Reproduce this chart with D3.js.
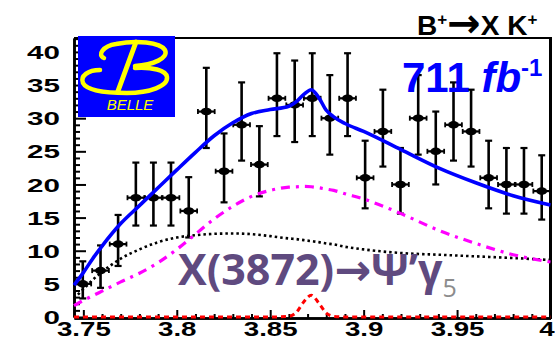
<!DOCTYPE html>
<html>
<head>
<meta charset="utf-8">
<script src="https://cdn.jsdelivr.net/npm/d3@7"></script>
<style>
  html, body { margin: 0; padding: 0; background: #fff; }
  svg { display: block; }
</style>
</head>
<body>
<div id="chart-container"></div>
<script>
/**************************************************
 * Data
 **************************************************/

// Bin centres of M(psi' gamma) [GeV], 27 bins between 3.745 and 4.0
const binCenters = [3.7497, 3.7592, 3.7686, 3.7781, 3.7875, 3.7969, 3.8064, 3.8158, 3.8253,
  3.8347, 3.8442, 3.8536, 3.8631, 3.8725, 3.8819, 3.8914, 3.9008, 3.9103,
  3.9197, 3.9292, 3.9386, 3.9481, 3.9575, 3.9669, 3.9764, 3.9858, 3.9953];
const counts = [5, 7, 11, 18, 18, 18, 16, 31, 22, 29, 23, 33, 32, 33, 30, 33, 21, 28,
  20, 30, 25, 29, 28, 21, 20, 20, 19];
const errLow = [2.2, 2.6, 3.3, 4.2, 4.2, 4.2, 4.0, 5.5, 4.7, 5.4, 4.8, 5.7, 5.6, 5.7, 5.5, 5.7, 4.6, 5.3,
  4.4, 5.5, 5.0, 5.4, 5.3, 4.6, 4.4, 4.4, 4.3];
const errHigh = [3.4, 3.8, 4.4, 5.3, 5.3, 5.3, 5.1, 6.6, 5.7, 6.4, 5.8, 6.8, 6.7, 6.8, 6.5, 6.8, 5.6, 6.3,
  5.5, 6.5, 6.0, 6.4, 6.3, 5.6, 5.5, 5.5, 5.4];

// Fit components sampled along the mass axis
const curveX = [3.745, 3.75, 3.755, 3.76, 3.77, 3.78, 3.79, 3.80, 3.81, 3.82, 3.83, 3.84, 3.85,
  3.86, 3.864, 3.868, 3.872, 3.876, 3.88, 3.884, 3.89, 3.90, 3.92, 3.94, 3.96, 3.98, 4.00];
const bkgCurve = [2.8, 4.2, 5.6, 6.8, 8.8, 10.2, 11.3, 12.0, 12.35, 12.55, 12.6, 12.5, 12.2,
  11.85, 11.75, 11.6, 11.45, 11.3, 11.1, 10.95, 10.6, 10.2, 9.65, 9.4, 9.15, 8.9, 8.6];
const psiCurve = [1.7, 2.5, 3.2, 3.9, 5.3, 6.6, 8.2, 10.2, 12.5, 14.8, 16.7, 18.2, 19.1,
  19.6, 19.65, 19.7, 19.65, 19.5, 19.3, 19.1, 18.6, 17.8, 15.6, 13.1, 11.1, 9.4, 8.3];
const sigCurve = [0, 0, 0, 0, 0, 0, 0, 0, 0, 0, 0, 0, 0,
  0.1, 0.7, 2.3, 3.3, 2.1, 0.6, 0.1, 0, 0, 0, 0, 0, 0, 0];
const totalCurve = [4.8, 6.7, 8.8, 10.7, 14.1, 16.8, 19.5, 22.2, 24.85, 27.35, 29.3, 30.7, 31.3,
  31.8, 32.5, 33.6, 34.3, 33.1, 31.2, 30.2, 29.2, 28.0, 25.25, 22.5, 20.25, 18.3, 16.9];

// Axis ticks
const xMajorTicks = [3.75, 3.8, 3.85, 3.9, 3.95, 4.0];
const xMinorTicks = [3.76, 3.77, 3.78, 3.79, 3.81, 3.82, 3.83, 3.84, 3.86, 3.87, 3.88, 3.89,
  3.91, 3.92, 3.93, 3.94, 3.96, 3.97, 3.98, 3.99];
const yMajorTicks = [0, 5, 10, 15, 20, 25, 30, 35, 40];
const yMinorTicks = [1, 2, 3, 4, 6, 7, 8, 9, 11, 12, 13, 14, 16, 17, 18, 19, 21, 22, 23, 24,
  26, 27, 28, 29, 31, 32, 33, 34, 36, 37, 38, 39, 41, 42];

/**************************************************
 * Rendering
 **************************************************/

const W = 555, H = 339;
const svg = d3.select("#chart-container")
  .append("svg")
  .attr("width", W)
  .attr("height", H);

const x = d3.scaleLinear().domain([3.745, 4.0]).range([74, 550.5]);
const y = d3.scaleLinear().domain([0, 42.1]).range([317, 38]);

const axisFont = "'Liberation Sans', Arial, sans-serif";
const arrowFont = "'DejaVu Sans', sans-serif";

// data points with error bars
const halfBin = (x(binCenters[1]) - x(binCenters[0])) / 2;
const pts = svg.append("g").attr("class", "points");
const pg = pts.selectAll("g")
  .data(binCenters.map((c, i) => ({ c, n: counts[i], lo: errLow[i], hi: errHigh[i] })))
  .enter()
  .append("g");

pg.append("line")
  .attr("x1", d => x(d.c)).attr("x2", d => x(d.c))
  .attr("y1", d => y(d.n - d.lo)).attr("y2", d => y(d.n + d.hi))
  .attr("stroke", "#000").attr("stroke-width", 2.6);
[d => d.n - d.lo, d => d.n + d.hi].forEach(f => {
  pg.append("line")
    .attr("x1", d => x(d.c) - 3.5).attr("x2", d => x(d.c) + 3.5)
    .attr("y1", d => y(f(d))).attr("y2", d => y(f(d)))
    .attr("stroke", "#000").attr("stroke-width", 2.2);
});
pg.append("line")
  .attr("x1", d => x(d.c) - halfBin + 0.5).attr("x2", d => x(d.c) + halfBin - 0.5)
  .attr("y1", d => y(d.n)).attr("y2", d => y(d.n))
  .attr("stroke", "#000").attr("stroke-width", 2.2);
[-1, 1].forEach(s => {
  pg.append("line")
    .attr("x1", d => x(d.c) + s * (halfBin - 0.5)).attr("x2", d => x(d.c) + s * (halfBin - 0.5))
    .attr("y1", d => y(d.n) - 2.5).attr("y2", d => y(d.n) + 2.5)
    .attr("stroke", "#000").attr("stroke-width", 1.8);
});
pg.append("ellipse")
  .attr("cx", d => x(d.c)).attr("cy", d => y(d.n))
  .attr("rx", 5.5).attr("ry", 3.8)
  .attr("fill", "#000");

// axes
const yAxisMinor = d3.axisLeft(y).tickValues(yMinorTicks).tickSize(-6).tickSizeOuter(0).tickFormat("");
const yAxis = d3.axisLeft(y).tickValues(yMajorTicks).tickSize(-12).tickSizeOuter(0).tickFormat(d3.format("d"));
const xAxisMinor = d3.axisBottom(x).tickValues(xMinorTicks).tickSize(-4).tickSizeOuter(0).tickFormat("");
const xAxis = d3.axisBottom(x).tickValues(xMajorTicks).tickSize(-8).tickSizeOuter(0).tickFormat(d3.format("~g"));

svg.append("g").attr("transform", "translate(74,0)").call(yAxisMinor);
const gy = svg.append("g").attr("class", "y-axis").attr("transform", "translate(74,0)").call(yAxis);
svg.append("g").attr("transform", "translate(0,318)").call(xAxisMinor);
const gx = svg.append("g").attr("class", "x-axis").attr("transform", "translate(0,318)").call(xAxis);

svg.selectAll(".tick line").attr("stroke", "#000").attr("stroke-width", 2);
svg.selectAll(".domain").attr("stroke", "#000").attr("stroke-width", 2.6);

gy.selectAll("text")
  .attr("font-family", axisFont).attr("font-weight", "bold").attr("font-size", "18.5px")
  .attr("fill", "#000")
  .attr("x", -14 / 1.6)
  .attr("dy", "0.36em")
  .attr("transform", "scale(1.6,1)");
gx.selectAll("text")
  .attr("font-family", axisFont).attr("font-weight", "bold").attr("font-size", "20.5px")
  .attr("fill", "#000")
  .attr("y", 3.5)
  .attr("x", d => d === 4.0 ? -3 : 0)
  .attr("transform", "scale(1.35,1)");

// frame top and right
svg.append("line").attr("x1", 74).attr("x2", 551).attr("y1", 38).attr("y2", 38)
  .attr("stroke", "#000").attr("stroke-width", 2);
svg.append("line").attr("x1", 550.5).attr("x2", 550.5).attr("y1", 37).attr("y2", 319)
  .attr("stroke", "#000").attr("stroke-width", 3);

// fit curves
function curvePath(vals) {
  return d3.line()
    .x((d, i) => x(curveX[i]))
    .y(d => y(d))
    .curve(d3.curveMonotoneX)(vals);
}
svg.append("path").attr("d", curvePath(sigCurve))
  .attr("fill", "none").attr("stroke", "#ff0000").attr("stroke-width", 3)
  .attr("stroke-dasharray", "5,4");
svg.append("path").attr("d", curvePath(bkgCurve))
  .attr("fill", "none").attr("stroke", "#000").attr("stroke-width", 2.6)
  .attr("stroke-dasharray", "2.5,3");
svg.append("path").attr("d", curvePath(psiCurve))
  .attr("fill", "none").attr("stroke", "#ff00ff").attr("stroke-width", 3.2)
  .attr("stroke-dasharray", "9,6,3,6");
svg.append("path").attr("d", curvePath(totalCurve))
  .attr("fill", "none").attr("stroke", "#0000ff").attr("stroke-width", 3.6);

// Belle logo
const logo = svg.append("g").attr("class", "logo");
logo.append("rect").attr("x", 78).attr("y", 36).attr("width", 97).attr("height", 81).attr("fill", "#0000ff");
logo.append("path")
  .attr("d", "M 104,58 C 97,55 103,46 116,44 C 136,40 160,42 165,50 C 169,58 153,65 135,66")
  .attr("fill", "none").attr("stroke", "#ffff00").attr("stroke-width", 4.5).attr("stroke-linecap", "round");
logo.append("path")
  .attr("d", "M 100,70 C 88,70 80,76 83,83 C 87,91 105,93 127,93 C 150,93 168,86 167,77 C 166,70 152,67 135,68")
  .attr("fill", "none").attr("stroke", "#ffff00").attr("stroke-width", 4.5).attr("stroke-linecap", "round");
logo.append("path")
  .attr("d", "M 136,42 L 118,91")
  .attr("fill", "none").attr("stroke", "#ffff00").attr("stroke-width", 5).attr("stroke-linecap", "round");
logo.append("text")
  .attr("x", 130).attr("y", 110).attr("text-anchor", "middle")
  .attr("font-family", axisFont).attr("font-style", "italic").attr("font-size", "15px")
  .attr("fill", "#ffff00")
  .text("BELLE");

// title B+ -> X K+
const title = svg.append("text")
  .attr("x", 417).attr("y", 35)
  .attr("font-family", axisFont).attr("font-weight", "bold").attr("font-size", "28px")
  .attr("fill", "#000");
title.append("tspan").text("B");
title.append("tspan").attr("font-size", "17px").attr("dy", -10).text("+");
title.append("tspan").attr("dy", 12).attr("font-family", arrowFont).attr("font-size", "40px").text("→");
title.append("tspan").attr("dy", -2).text("X K");
title.append("tspan").attr("font-size", "17px").attr("dy", -10).text("+");

// luminosity
const lumi = svg.append("text")
  .attr("x", 402).attr("y", 92)
  .attr("font-family", axisFont).attr("font-weight", "bold").attr("font-size", "42px")
  .attr("fill", "#0000ff");
lumi.append("tspan").text("711 ");
lumi.append("tspan").attr("font-style", "italic").text("fb");
lumi.append("tspan").attr("font-size", "24px").attr("dy", -16).text("-1");

// decay label
const decay = svg.append("text")
  .attr("x", 178).attr("y", 285)
  .attr("font-family", "'Open Sans', sans-serif").attr("font-weight", "bold").attr("font-size", "43px")
  .attr("fill", "#5f4a7f");
decay.append("tspan").text("X(3872)");
decay.append("tspan").attr("font-family", arrowFont).attr("font-size", "44px").text("→");
decay.append("tspan").text("Ψ’γ");
decay.append("tspan").attr("font-weight", "normal").attr("font-size", "25px").attr("fill", "#8c8c8c")
  .attr("dy", 12).text("5");
</script>
</body>
</html>
